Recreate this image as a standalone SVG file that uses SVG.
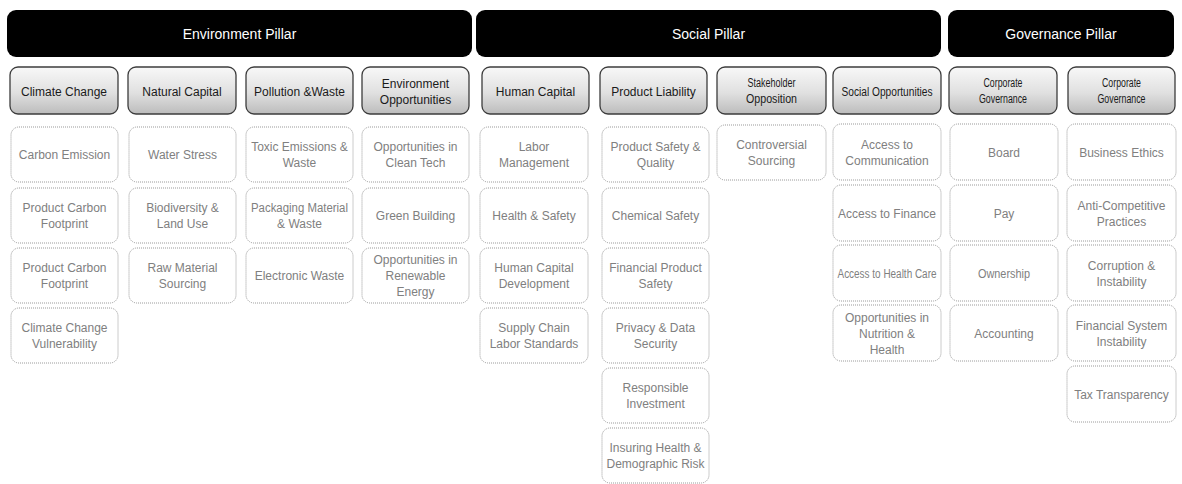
<svg xmlns="http://www.w3.org/2000/svg" width="1182" height="484" viewBox="0 0 1182 484">
  <defs>
    <linearGradient id="catFill" x1="0" y1="0" x2="0" y2="1">
      <stop offset="0" stop-color="#f8f8f8"/>
      <stop offset="0.55" stop-color="#e0e0e0"/>
      <stop offset="1" stop-color="#bcbcbc"/>
    </linearGradient>
  </defs>
  <style>
    .pillar rect { fill: #000000; }
    .pillar text { fill: #ffffff; font-family: "Liberation Sans", Arial, sans-serif; font-size: 14px; text-anchor: middle; }
    .cat rect { fill: url(#catFill); stroke: #3c3c3c; stroke-width: 1.3; }
    .cat text { fill: #1a1a1a; font-family: "Liberation Sans", Arial, sans-serif; font-size: 12px; text-anchor: middle; }
    .item rect { fill: #ffffff; stroke: #999999; stroke-width: 1; stroke-dasharray: 1 1; }
    .item text { fill: #808080; font-family: "Liberation Sans", Arial, sans-serif; font-size: 12px; text-anchor: middle; }
  </style>
  <rect width="1182" height="484" fill="#ffffff"/>

  <!-- pillar headers -->
  <g id="pillar-environment" class="pillar">
    <rect x="7" y="10" width="465" height="47" rx="9"/>
    <text x="239.5" y="38.5">Environment Pillar</text>
  </g>
  <g id="pillar-social" class="pillar">
    <rect x="476" y="10" width="465" height="47" rx="9"/>
    <text x="708.5" y="38.5">Social Pillar</text>
  </g>
  <g id="pillar-governance" class="pillar">
    <rect x="948" y="10" width="226" height="47" rx="9"/>
    <text x="1061" y="38.5">Governance Pillar</text>
  </g>

  <!-- theme headers -->
  <g id="cat-climate-change" class="cat">
    <rect x="10" y="67" width="108" height="47" rx="8"/>
    <text x="64" y="95.5">Climate Change</text>
  </g>
  <g id="cat-natural-capital" class="cat">
    <rect x="128" y="67" width="108" height="47" rx="8"/>
    <text x="182" y="95.5">Natural Capital</text>
  </g>
  <g id="cat-pollution-waste" class="cat">
    <rect x="246" y="67" width="107" height="47" rx="8"/>
    <text x="299.5" y="95.5">Pollution &amp;Waste</text>
  </g>
  <g id="cat-environment-opportunities" class="cat">
    <rect x="362" y="67" width="107" height="47" rx="8"/>
    <text x="415.5" y="87.5">Environment</text>
    <text x="415.5" y="103.5">Opportunities</text>
  </g>
  <g id="cat-human-capital" class="cat">
    <rect x="482" y="67" width="107" height="47" rx="8"/>
    <text x="535.5" y="95.5">Human Capital</text>
  </g>
  <g id="cat-product-liability" class="cat">
    <rect x="600" y="67" width="107" height="47" rx="8"/>
    <text x="653.5" y="95.5">Product Liability</text>
  </g>
  <g id="cat-stakeholder-opposition" class="cat">
    <rect x="717" y="67" width="109" height="47" rx="8"/>
    <text x="771.5" y="86.5" textLength="48" lengthAdjust="spacingAndGlyphs">Stakeholder</text>
    <text x="771.5" y="102.5" textLength="51" lengthAdjust="spacingAndGlyphs">Opposition</text>
  </g>
  <g id="cat-social-opportunities" class="cat">
    <rect x="833" y="67" width="108" height="47" rx="8"/>
    <text x="887" y="95.5" textLength="91" lengthAdjust="spacingAndGlyphs">Social Opportunities</text>
  </g>
  <g id="cat-corporate-governance-1" class="cat">
    <rect x="949" y="67" width="108" height="47" rx="8"/>
    <text x="1003" y="86.5" textLength="39" lengthAdjust="spacingAndGlyphs">Corporate</text>
    <text x="1003" y="102.5" textLength="48" lengthAdjust="spacingAndGlyphs">Governance</text>
  </g>
  <g id="cat-corporate-governance-2" class="cat">
    <rect x="1068" y="67" width="107" height="47" rx="8"/>
    <text x="1121.5" y="86.5" textLength="39" lengthAdjust="spacingAndGlyphs">Corporate</text>
    <text x="1121.5" y="102.5" textLength="48" lengthAdjust="spacingAndGlyphs">Governance</text>
  </g>

  <!-- Climate Change items -->
  <g id="item-carbon-emission" class="item">
    <rect x="11" y="127" width="107" height="55" rx="8"/>
    <text x="64.5" y="159">Carbon Emission</text>
  </g>
  <g id="item-product-carbon-footprint-1" class="item">
    <rect x="11" y="188" width="107" height="55" rx="8"/>
    <text x="64.5" y="212">Product Carbon</text>
    <text x="64.5" y="228">Footprint</text>
  </g>
  <g id="item-product-carbon-footprint-2" class="item">
    <rect x="11" y="248" width="107" height="55" rx="8"/>
    <text x="64.5" y="272">Product Carbon</text>
    <text x="64.5" y="288">Footprint</text>
  </g>
  <g id="item-climate-change-vulnerability" class="item">
    <rect x="11" y="308" width="107" height="55" rx="8"/>
    <text x="64.5" y="332">Climate Change</text>
    <text x="64.5" y="348">Vulnerability</text>
  </g>

  <!-- Natural Capital items -->
  <g id="item-water-stress" class="item">
    <rect x="129" y="127" width="107" height="55" rx="8"/>
    <text x="182.5" y="159">Water Stress</text>
  </g>
  <g id="item-biodiversity-land-use" class="item">
    <rect x="129" y="188" width="107" height="55" rx="8"/>
    <text x="182.5" y="212">Biodiversity &amp;</text>
    <text x="182.5" y="228">Land Use</text>
  </g>
  <g id="item-raw-material-sourcing" class="item">
    <rect x="129" y="248" width="107" height="55" rx="8"/>
    <text x="182.5" y="272">Raw Material</text>
    <text x="182.5" y="288">Sourcing</text>
  </g>

  <!-- Pollution & Waste items -->
  <g id="item-toxic-emissions-waste" class="item">
    <rect x="246" y="127" width="107" height="55" rx="8"/>
    <text x="299.5" y="151">Toxic Emissions &amp;</text>
    <text x="299.5" y="167">Waste</text>
  </g>
  <g id="item-packaging-material-waste" class="item">
    <rect x="246" y="188" width="107" height="55" rx="8"/>
    <text x="299.5" y="212" textLength="97" lengthAdjust="spacingAndGlyphs">Packaging Material</text>
    <text x="299.5" y="228">&amp; Waste</text>
  </g>
  <g id="item-electronic-waste" class="item">
    <rect x="246" y="248" width="107" height="55" rx="8"/>
    <text x="299.5" y="280">Electronic Waste</text>
  </g>

  <!-- Environment Opportunities items -->
  <g id="item-opportunities-clean-tech" class="item">
    <rect x="362" y="127" width="107" height="55" rx="8"/>
    <text x="415.5" y="151">Opportunities in</text>
    <text x="415.5" y="167">Clean Tech</text>
  </g>
  <g id="item-green-building" class="item">
    <rect x="362" y="188" width="107" height="55" rx="8"/>
    <text x="415.5" y="220">Green Building</text>
  </g>
  <g id="item-opportunities-renewable-energy" class="item">
    <rect x="362" y="248" width="107" height="55" rx="8"/>
    <text x="415.5" y="264">Opportunities in</text>
    <text x="415.5" y="280">Renewable</text>
    <text x="415.5" y="296">Energy</text>
  </g>

  <!-- Human Capital items -->
  <g id="item-labor-management" class="item">
    <rect x="480" y="127" width="108" height="55" rx="8"/>
    <text x="534" y="151">Labor</text>
    <text x="534" y="167">Management</text>
  </g>
  <g id="item-health-safety" class="item">
    <rect x="480" y="188" width="108" height="55" rx="8"/>
    <text x="534" y="220">Health &amp; Safety</text>
  </g>
  <g id="item-human-capital-development" class="item">
    <rect x="480" y="248" width="108" height="55" rx="8"/>
    <text x="534" y="272">Human Capital</text>
    <text x="534" y="288">Development</text>
  </g>
  <g id="item-supply-chain-labor-standards" class="item">
    <rect x="480" y="308" width="108" height="55" rx="8"/>
    <text x="534" y="332">Supply Chain</text>
    <text x="534" y="348">Labor Standards</text>
  </g>

  <!-- Product Liability items -->
  <g id="item-product-safety-quality" class="item">
    <rect x="602" y="127" width="107" height="55" rx="8"/>
    <text x="655.5" y="151">Product Safety &amp;</text>
    <text x="655.5" y="167">Quality</text>
  </g>
  <g id="item-chemical-safety" class="item">
    <rect x="602" y="188" width="107" height="55" rx="8"/>
    <text x="655.5" y="220">Chemical Safety</text>
  </g>
  <g id="item-financial-product-safety" class="item">
    <rect x="602" y="248" width="107" height="55" rx="8"/>
    <text x="655.5" y="272">Financial Product</text>
    <text x="655.5" y="288">Safety</text>
  </g>
  <g id="item-privacy-data-security" class="item">
    <rect x="602" y="308" width="107" height="55" rx="8"/>
    <text x="655.5" y="332">Privacy &amp; Data</text>
    <text x="655.5" y="348">Security</text>
  </g>
  <g id="item-responsible-investment" class="item">
    <rect x="602" y="368" width="107" height="55" rx="8"/>
    <text x="655.5" y="392">Responsible</text>
    <text x="655.5" y="408">Investment</text>
  </g>
  <g id="item-insuring-health-demographic-risk" class="item">
    <rect x="602" y="428" width="107" height="55" rx="8"/>
    <text x="655.5" y="452">Insuring Health &amp;</text>
    <text x="655.5" y="468" textLength="98" lengthAdjust="spacingAndGlyphs">Demographic Risk</text>
  </g>

  <!-- Stakeholder Opposition items -->
  <g id="item-controversial-sourcing" class="item">
    <rect x="717" y="125" width="109" height="55" rx="8"/>
    <text x="771.5" y="149">Controversial</text>
    <text x="771.5" y="165">Sourcing</text>
  </g>

  <!-- Social Opportunities items -->
  <g id="item-access-communication" class="item">
    <rect x="833" y="124" width="108" height="56" rx="8"/>
    <text x="887" y="148.5">Access to</text>
    <text x="887" y="164.5">Communication</text>
  </g>
  <g id="item-access-finance" class="item">
    <rect x="833" y="185" width="108" height="56" rx="8"/>
    <text x="887" y="217.5">Access to Finance</text>
  </g>
  <g id="item-access-health-care" class="item">
    <rect x="833" y="245" width="108" height="56" rx="8"/>
    <text x="887" y="277.5" textLength="99" lengthAdjust="spacingAndGlyphs">Access to Health Care</text>
  </g>
  <g id="item-opportunities-nutrition-health" class="item">
    <rect x="833" y="305" width="108" height="56" rx="8"/>
    <text x="887" y="321.5">Opportunities in</text>
    <text x="887" y="337.5">Nutrition &amp;</text>
    <text x="887" y="353.5">Health</text>
  </g>

  <!-- Corporate Governance items -->
  <g id="item-board" class="item">
    <rect x="950" y="124" width="108" height="56" rx="8"/>
    <text x="1004" y="156.5">Board</text>
  </g>
  <g id="item-pay" class="item">
    <rect x="950" y="185" width="108" height="56" rx="8"/>
    <text x="1004" y="217.5">Pay</text>
  </g>
  <g id="item-ownership" class="item">
    <rect x="950" y="245" width="108" height="56" rx="8"/>
    <text x="1004" y="277.5" textLength="52" lengthAdjust="spacingAndGlyphs">Ownership</text>
  </g>
  <g id="item-accounting" class="item">
    <rect x="950" y="305" width="108" height="56" rx="8"/>
    <text x="1004" y="337.5">Accounting</text>
  </g>

  <!-- Corporate Behaviour items -->
  <g id="item-business-ethics" class="item">
    <rect x="1067" y="124" width="109" height="56" rx="8"/>
    <text x="1121.5" y="156.5">Business Ethics</text>
  </g>
  <g id="item-anti-competitive-practices" class="item">
    <rect x="1067" y="185" width="109" height="56" rx="8"/>
    <text x="1121.5" y="209.5">Anti-Competitive</text>
    <text x="1121.5" y="225.5">Practices</text>
  </g>
  <g id="item-corruption-instability" class="item">
    <rect x="1067" y="245" width="109" height="56" rx="8"/>
    <text x="1121.5" y="269.5">Corruption &amp;</text>
    <text x="1121.5" y="285.5">Instability</text>
  </g>
  <g id="item-financial-system-instability" class="item">
    <rect x="1067" y="305" width="109" height="56" rx="8"/>
    <text x="1121.5" y="329.5">Financial System</text>
    <text x="1121.5" y="345.5">Instability</text>
  </g>
  <g id="item-tax-transparency" class="item">
    <rect x="1067" y="366" width="109" height="56" rx="8"/>
    <text x="1121.5" y="398.5">Tax Transparency</text>
  </g>

  <!-- no connectors in this layout -->
  <g id="connectors"/>
</svg>
